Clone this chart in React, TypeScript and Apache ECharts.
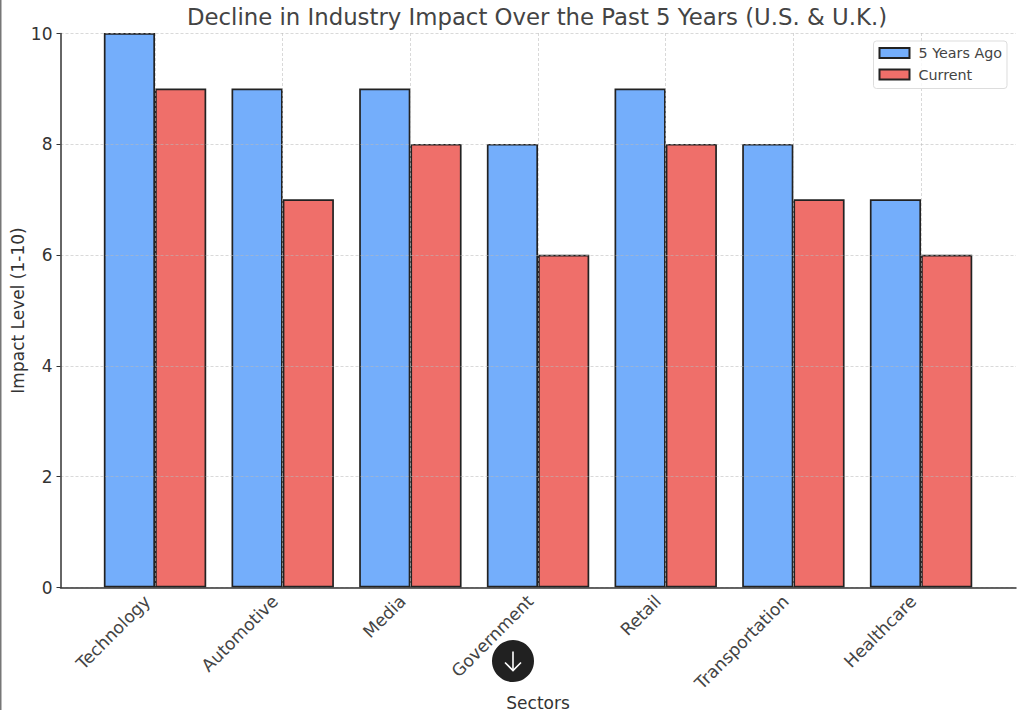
import React, { useEffect, useRef } from "react";
import * as echarts from "echarts";

const categories = ["Technology", "Automotive", "Media", "Government", "Retail", "Transportation", "Healthcare"];
const fiveYearsAgo = [10, 9, 9, 8, 9, 8, 7];
const current = [9, 7, 8, 6, 8, 7, 6];
const yTicks = { min: 0, max: 10, interval: 2 };

const FONT = "DejaVu Sans";
const GRID_LINE = "rgba(185,185,185,0.55)";

export default function App() {
  const ref = useRef<HTMLDivElement>(null);
  useEffect(() => {
    const chart = echarts.init(ref.current!, undefined, { renderer: "svg" });
    const cx = 513, cy = 661;
    chart.setOption({
      animation: false,
      backgroundColor: "#fff",
      textStyle: { fontFamily: FONT },
      title: {
        text: "Decline in Industry Impact Over the Past 5 Years (U.S. & U.K.)",
        left: 537, top: 5, textAlign: "center", padding: 0,
        textStyle: { fontFamily: FONT, fontSize: 22.8, fontWeight: "normal", color: "#444" },
      },
      legend: {
        right: 17, top: 41, orient: "vertical", padding: [5, 5, 7, 5],
        itemWidth: 30, itemHeight: 10, itemGap: 7.5, icon: "rect",
        backgroundColor: "rgba(255,255,255,0.8)", borderColor: "#ddd", borderWidth: 1, borderRadius: 3,
        textStyle: { fontFamily: FONT, fontSize: 14.3, color: "#444", padding: [0, 0, 0, 4] },
        z: 8,
        data: ["5 Years Ago", "Current"],
      },
      grid: [
        { left: 60.5, right: 8, top: 33.5, height: 554, outerBoundsMode: "none" },
        { left: 91.2, width: 893.7, top: 33, height: 554.5, outerBoundsMode: "none" },
      ],
      xAxis: [
        {
          type: "value", gridIndex: 0, min: 0, max: 1, z: 5,
          axisLine: { show: true, onZero: false, lineStyle: { color: "#333", width: 1.5 } },
          axisTick: { show: false }, axisLabel: { show: false }, splitLine: { show: false },
        },
        {
          type: "category", gridIndex: 1, data: categories, z: 5,
          name: "Sectors", nameLocation: "middle", nameGap: 107, nameMoveOverlap: false,
          nameTextStyle: { fontFamily: FONT, fontSize: 17, color: "#333", verticalAlign: "top" },
          axisLine: { show: false },
          axisTick: { show: false },
          axisLabel: { rotate: 45, fontFamily: FONT, fontSize: 17.2, color: "#444", margin: 3, interval: 0, padding: [0, 11, 0, 0] },
          splitLine: { show: true, alignWithLabel: true, lineStyle: { color: GRID_LINE, type: [3, 2], width: 1 } },
        },
      ],
      yAxis: [
        {
          type: "value", gridIndex: 0, ...yTicks, z: 5,
          name: "Impact Level (1-10)", nameLocation: "middle", nameGap: 34, nameMoveOverlap: false,
          nameTextStyle: { fontFamily: FONT, fontSize: 17, color: "#333" },
          axisLine: { show: true, lineStyle: { color: "#333", width: 1.5 } },
          axisTick: { show: true, length: 4, lineStyle: { color: "#333", width: 1 } },
          axisLabel: { fontFamily: FONT, fontSize: 17, color: "#333", margin: 8 },
          splitLine: { show: true, lineStyle: { color: GRID_LINE, type: [3, 2], width: 1 } },
        },
        { type: "value", gridIndex: 1, ...yTicks, show: false, splitLine: { show: false } },
      ],
      series: [
        {
          name: "5 Years Ago", type: "bar", xAxisIndex: 1, yAxisIndex: 1, data: fiveYearsAgo,
          barWidth: 51.2, barGap: 0,
          itemStyle: { color: "#74aefb", borderColor: "#222", borderWidth: 1.7 },
        },
        {
          name: "Current", type: "bar", xAxisIndex: 1, yAxisIndex: 1, data: current,
          barWidth: 51.2, barGap: 0,
          itemStyle: { color: "#ef6f6a", borderColor: "#222", borderWidth: 1.7 },
        },
      ],
      graphic: [
        { type: "rect", left: 0, top: 0, z: 20, shape: { width: 1.5, height: 710 }, style: { fill: "#777" } },
        { type: "circle", x: cx, y: cy, z: 20, shape: { cx: 0, cy: 0, r: 21 }, style: { fill: "#212121" } },
        { type: "line", x: cx, y: cy, z: 21, shape: { x1: 0, y1: -9.5, x2: 0, y2: 9 }, style: { stroke: "#fff", lineWidth: 1.6 } },
        { type: "polyline", x: cx, y: cy, z: 21, shape: { points: [[-8, 1.5], [0, 9.5], [8, 1.5]] }, style: { stroke: "#fff", lineWidth: 1.6, fill: "none" } },
      ],
    });
    return () => chart.dispose();
  }, []);
  return <div ref={ref} style={{ position: "absolute", left: 0, top: 0, width: 1024, height: 710 }} />;
}
